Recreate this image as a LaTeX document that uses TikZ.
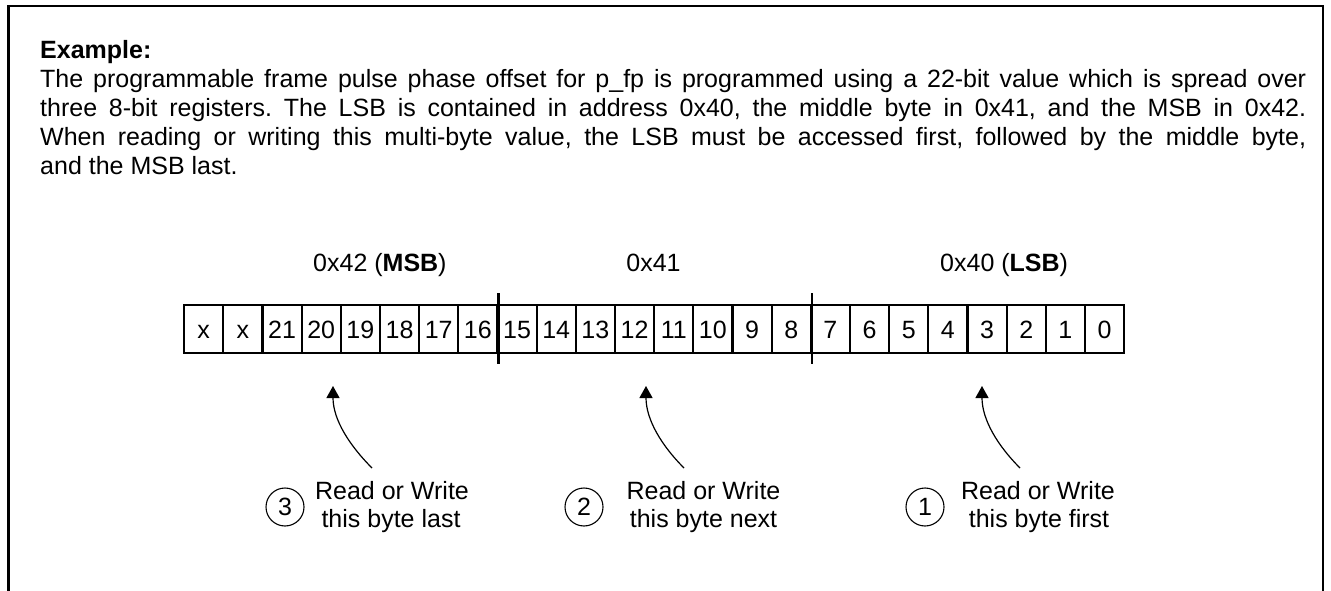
\documentclass[tikz,border=0pt]{standalone}
\usepackage{fontspec}
\setmainfont{Liberation Sans}
\usetikzlibrary{arrows.meta}
\begin{document}
\frenchspacing
\begin{tikzpicture}[x=1pt,y=-1pt,
  txt/.style={font=\fontsize{25}{29}\selectfont, inner sep=0pt},
  cell/.style={draw, line width=2.2pt, minimum width=39.17pt, minimum height=48pt,
    inner sep=0pt, text height=18pt, text depth=0pt, font=\fontsize{25}{29}\selectfont},
  bytesep/.style={line width=2.2pt},
  num/.style={circle, draw, line width=1.1pt, minimum size=38pt, inner sep=0pt,
    font=\fontsize{25}{29}\selectfont},
  ptr/.style={line width=1.2pt, -{Triangle[length=12pt,width=13pt]}},
  frameline/.style={line width=2.8pt, line join=miter}]
\useasboundingbox (0,0) rectangle (1331,591);

% outer frame, open at the bottom
\draw[frameline] (8.7,600) -- (8.7,6) -- (1323,6) -- (1323,600);

% heading and description
\node[txt, anchor=north west, text width=1266pt, align=justify] (body) at (40,37.7)
  {\parindent=0pt\strut\textbf{Example:}\par
   The programmable frame pulse phase offset for p\_fp is programmed using a 22-bit value which is spread over\linebreak
   three 8-bit registers. The LSB is contained in address 0x40, the middle byte in 0x41, and the MSB in 0x42.\linebreak
   When reading or writing this multi-byte value, the LSB must be accessed first, followed by the middle byte,\linebreak
   and the MSB last.};

% register addresses
\node[txt, anchor=base west] (a42) at (313,271) {0x42 (\textbf{MSB})};
\node[txt, anchor=base] (a41) at (653.5,271) {0x41};
\node[txt, anchor=base west] (a40) at (940,271) {0x40 (\textbf{LSB})};

% the 24 bit cells
\foreach \lab [count=\i from 0] in {x,x,21,20,19,18,17,16,15,14,13,12,11,10,9,8,7,6,5,4,3,2,1,0} {
  \node[cell, anchor=north west] (c\i) at ({183+\i*39.17},304) {\lab};
}

% byte boundaries
\draw[bytesep] ([yshift=11pt]c7.north east) -- ([yshift=-10pt]c7.south east);
\draw[bytesep] ([yshift=11pt]c15.north east) -- ([yshift=-10pt]c15.south east);

% access order: circles and captions
\node[num] (n3) at (285,507) {3};
\node[txt, anchor=base] (l3a) at (392,499) {Read or Write};
\node[txt, anchor=base] (l3b) at (391,527) {this byte last};

\node[num] (n2) at (584,507) {2};
\node[txt, anchor=base] (l2a) at (703.5,499) {Read or Write};
\node[txt, anchor=base] (l2b) at (703.5,527) {this byte next};

\node[num] (n1) at (925,507) {1};
\node[txt, anchor=base] (l1a) at (1038,499) {Read or Write};
\node[txt, anchor=base] (l1b) at (1039,527) {this byte first};

% pointers up to each byte
\coordinate (s3) at (372,468); \coordinate (t3) at (333,386);
\coordinate (s2) at (684,468); \coordinate (t2) at (646,386);
\coordinate (s1) at (1020,468); \coordinate (t1) at (982,386);
\draw[ptr] (s3) .. controls +(-22,-22) and +(0,34) .. (t3);
\draw[ptr] (s2) .. controls +(-22,-22) and +(0,34) .. (t2);
\draw[ptr] (s1) .. controls +(-22,-22) and +(0,34) .. (t1);
\end{tikzpicture}
\end{document}
